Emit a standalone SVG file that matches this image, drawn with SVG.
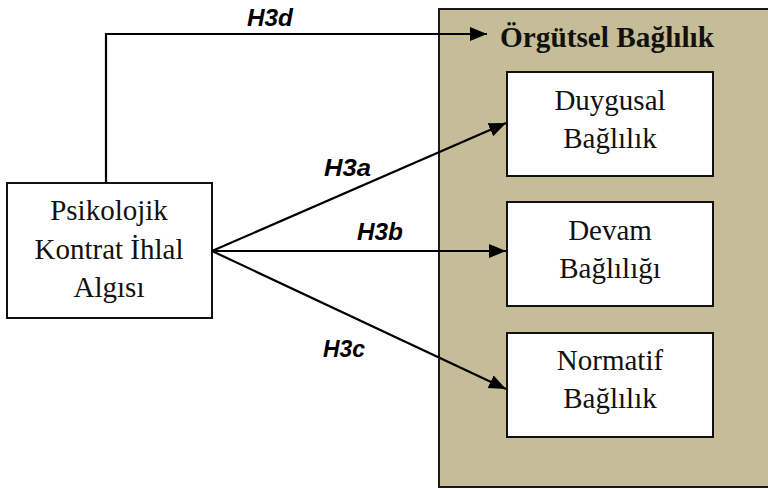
<svg xmlns="http://www.w3.org/2000/svg" width="768" height="489" viewBox="0 0 768 489">
  <style>
    .box { fill: #ffffff; stroke: #111111; stroke-width: 2; }
    .container { fill: #C4BD97; stroke: #1a1a1a; stroke-width: 2; }
    .node-text { font-family: 'Liberation Serif', 'DejaVu Serif', serif; font-size: 29px; font-weight: normal; fill: #111111; text-anchor: middle; }
    .title { font-family: 'Liberation Serif', 'DejaVu Serif', serif; font-size: 29px; font-weight: bold; fill: #111111; }
    .edge { fill: none; stroke: #000000; stroke-width: 2.2; }
    .edge-label { font-family: 'Liberation Sans', Arial, sans-serif; font-size: 23px; font-weight: bold; font-style: italic; fill: #000000; }
  </style>
  <defs>
    <marker id="arrow" markerUnits="userSpaceOnUse" markerWidth="18" markerHeight="15" refX="17" refY="7" orient="auto">
      <path d="M0,0 L17,7 L0,14 Z" fill="#000000"/>
    </marker>
  </defs>
  <rect width="768" height="489" fill="#ffffff"/>

  <g id="orgutsel-baglilik">
    <rect class="container" x="439" y="9" width="340" height="478"/>
    <text class="title" x="500" y="47" textLength="214" lengthAdjust="spacingAndGlyphs">Örgütsel Bağlılık</text>
  </g>

  <g id="psikolojik-kontrat" font-family="Liberation Serif, serif">
    <rect class="box" x="7" y="183" width="205" height="135"/>
    <text class="node-text" x="109" y="220">Psikolojik</text>
    <text class="node-text" x="109" y="259">Kontrat İhlal</text>
    <text class="node-text" x="109" y="297">Algısı</text>
  </g>

  <g id="duygusal-baglilik">
    <rect class="box" x="507" y="72" width="206" height="104"/>
    <text class="node-text" x="610" y="110">Duygusal</text>
    <text class="node-text" x="610" y="148">Bağlılık</text>
  </g>

  <g id="devam-bagliligi">
    <rect class="box" x="507" y="202" width="206" height="104"/>
    <text class="node-text" x="610" y="240">Devam</text>
    <text class="node-text" x="610" y="278">Bağlılığı</text>
  </g>

  <g id="normatif-baglilik">
    <rect class="box" x="507" y="333" width="206" height="104"/>
    <text class="node-text" x="610" y="370">Normatif</text>
    <text class="node-text" x="610" y="408">Bağlılık</text>
  </g>

  <g id="connectors">
    <polyline class="edge" points="106,183 106,34 487,34" marker-end="url(#arrow)"/>
    <line class="edge" x1="212" y1="251" x2="506" y2="123" marker-end="url(#arrow)"/>
    <line class="edge" x1="212" y1="251" x2="506" y2="251" marker-end="url(#arrow)"/>
    <line class="edge" x1="212" y1="251" x2="506" y2="389" marker-end="url(#arrow)"/>
    <text class="edge-label" x="247" y="26" textLength="46" lengthAdjust="spacingAndGlyphs">H3d</text>
    <text class="edge-label" x="324" y="176" textLength="47" lengthAdjust="spacingAndGlyphs">H3a</text>
    <text class="edge-label" x="357" y="240" textLength="46" lengthAdjust="spacingAndGlyphs">H3b</text>
    <text class="edge-label" x="323" y="357" textLength="42" lengthAdjust="spacingAndGlyphs">H3c</text>
  </g>
</svg>
